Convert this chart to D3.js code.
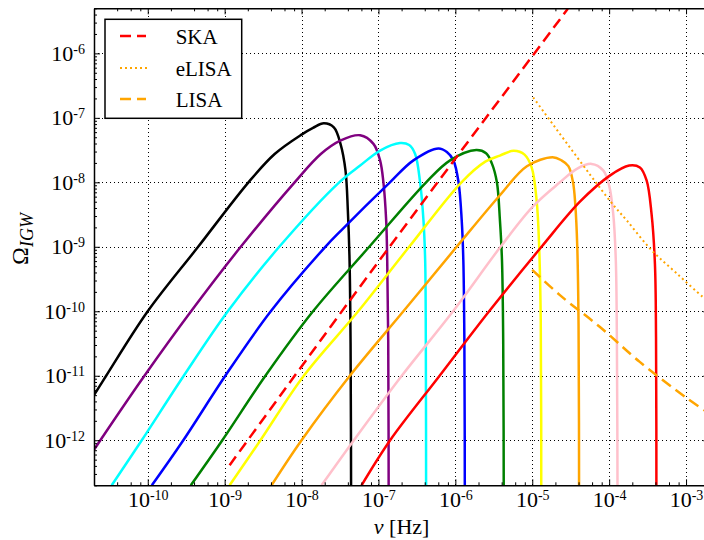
<!DOCTYPE html>
<html>
<head>
<meta charset="utf-8">
<script src="https://cdn.jsdelivr.net/npm/d3@7"></script>
<style>
  body { margin: 0; background: #fff; }
  svg { display: block; }
</style>
</head>
<body>
<svg id="chart" width="704" height="540"></svg>
<script>
// ---------- tick labels (exponents of ten) ----------
const xTickExps = [-10, -9, -8, -7, -6, -5, -4, -3];
const yTickExps = [-12, -11, -10, -9, -8, -7, -6];

// ---------- Omega_IGW spectra: frequency nu [Hz] and Omega ----------
const nuBlack = [2.0e-11, 2.88e-11, 1.0e-10, 4.52e-10, 2.04e-9, 4.47e-9, 1.0e-8, 1.41e-8, 1.95e-8, 2.63e-8, 3.21e-8, 3.73e-8, 4.0e-8, 4.21e-8, 4.34e-8, 4.42e-8];
const omBlack = [5.0e-12, 1.0e-11, 1.0e-10, 1.0e-9, 1.0e-8, 2.75e-8, 5.5e-8, 7.0e-8, 8.24e-8, 7.14e-8, 3.95e-8, 1.52e-8, 3.65e-9, 6.1e-10, 3.16e-11, 3.0e-14];

const nuPurple = [2.0e-11, 2.42e-11, 9.06e-11, 3.66e-10, 1.62e-9, 8.13e-9, 1.78e-8, 3.24e-8, 5.78e-8, 8.61e-8, 1.05e-7, 1.16e-7, 1.26e-7, 1.30e-7, 1.34e-7, 1.36e-7];
const omPurple = [7.1e-13, 1.0e-12, 1.0e-11, 1.0e-10, 1.0e-9, 1.0e-8, 2.75e-8, 4.47e-8, 5.37e-8, 3.95e-8, 2.19e-8, 1.0e-8, 2.57e-9, 6.17e-10, 3.55e-11, 3.0e-14];

const nuCyan = [3.4e-11, 8.36e-11, 2.94e-10, 1.10e-9, 5.13e-9, 3.09e-8, 5.78e-8, 1.05e-7, 1.91e-7, 2.51e-7, 3.0e-7, 3.48e-7, 3.85e-7, 4.05e-7, 4.13e-7, 4.17e-7];
const omCyan = [2.0e-13, 1.0e-12, 1.0e-11, 1.0e-10, 1.0e-9, 1.0e-8, 1.82e-8, 3.11e-8, 4.07e-8, 3.80e-8, 2.75e-8, 1.0e-8, 2.57e-9, 6.17e-10, 3.55e-11, 3.0e-14];

const nuBlue = [1.13e-10, 2.90e-10, 1.02e-9, 3.98e-9, 2.04e-8, 3.31e-8, 1.41e-7, 2.85e-7, 6.03e-7, 7.76e-7, 9.44e-7, 1.10e-6, 1.21e-6, 1.27e-6, 1.31e-6, 1.33e-6];
const omBlue = [2.0e-13, 1.0e-12, 1.0e-11, 1.0e-10, 1.0e-9, 1.82e-9, 1.0e-8, 2.19e-8, 3.35e-8, 2.95e-8, 2.19e-8, 1.0e-8, 2.57e-9, 6.17e-10, 3.55e-11, 3.0e-14];

const nuGreen = [3.63e-10, 9.33e-10, 3.39e-9, 1.41e-8, 7.59e-8, 4.17e-7, 8.55e-7, 1.87e-6, 2.51e-6, 2.99e-6, 3.47e-6, 3.80e-6, 4.04e-6, 4.19e-6, 4.27e-6];
const omGreen = [2.0e-13, 1.0e-12, 1.0e-11, 1.0e-10, 1.0e-9, 1.0e-8, 2.19e-8, 3.16e-8, 2.82e-8, 1.95e-8, 1.0e-8, 2.57e-9, 6.17e-10, 3.55e-11, 3.0e-14];

const nuYellow = [1.16e-9, 2.92e-9, 1.07e-8, 5.45e-8, 2.51e-7, 1.20e-6, 2.45e-6, 3.80e-6, 5.75e-6, 7.94e-6, 9.82e-6, 1.14e-5, 1.23e-5, 1.29e-5, 1.31e-5];
const omYellow = [2.0e-13, 1.0e-12, 1.0e-11, 1.0e-10, 1.0e-9, 1.0e-8, 2.09e-8, 2.60e-8, 3.09e-8, 2.69e-8, 1.70e-8, 5.25e-9, 1.0e-9, 7.24e-11, 3.0e-14];

const nuOrange = [4.07e-9, 1.0e-8, 4.25e-8, 2.11e-7, 1.04e-6, 3.80e-6, 8.51e-6, 1.84e-5, 2.40e-5, 2.95e-5, 3.39e-5, 3.63e-5, 3.85e-5, 4.0e-5, 4.07e-5];
const omOrange = [2.0e-13, 1.0e-12, 1.0e-11, 1.0e-10, 1.0e-9, 6.31e-9, 1.78e-8, 2.45e-8, 2.19e-8, 1.78e-8, 1.0e-8, 4.47e-9, 1.0e-9, 6.31e-11, 3.0e-14];

const nuPink = [1.82e-8, 4.79e-8, 2.01e-7, 9.33e-7, 3.87e-6, 1.03e-5, 2.29e-5, 3.80e-5, 5.92e-5, 8.37e-5, 1.0e-4, 1.13e-4, 1.22e-4, 1.26e-4, 1.29e-4];
const omPink = [2.0e-13, 1.0e-12, 1.0e-11, 1.0e-10, 1.0e-9, 4.27e-9, 1.0e-8, 1.62e-8, 1.93e-8, 1.53e-8, 8.9e-9, 3.24e-9, 6.31e-10, 3.98e-11, 3.0e-14];

const nuRed = [6.03e-8, 1.42e-7, 6.24e-7, 2.75e-6, 1.32e-5, 4.17e-5, 1.02e-4, 1.82e-4, 2.51e-4, 3.07e-4, 3.56e-4, 3.94e-4, 4.07e-4, 4.12e-4];
const omRed = [2.0e-13, 1.0e-12, 1.0e-11, 1.0e-10, 1.0e-9, 5.0e-9, 1.27e-8, 1.82e-8, 1.70e-8, 1.07e-8, 3.24e-9, 5.37e-10, 3.98e-11, 3.0e-14];

// ---------- detector sensitivity curves ----------
const nuSKA = [1.16e-9, 8.0e-8, 2.9e-5];
const omSKA = [4.1e-13, 4.1e-10, 4.9e-6];

const nuELISA = [1.03e-5, 1.02e-4, 1.69e-4, 3.55e-4, 7.5e-4, 1.66e-3, 2.0e-3];
const omELISA = [2.07e-7, 5.2e-9, 2.57e-9, 8.9e-10, 3.9e-10, 1.66e-10, 1.4e-10];

const nuLISA = [1.0e-5, 2.29e-5, 7.6e-5, 2.5e-4, 1.02e-3, 2.0e-3];
const omLISA = [4.4e-10, 1.78e-10, 5.7e-11, 1.64e-11, 4.5e-12, 2.6e-12];

const legendLabels = ["SKA", "eLISA", "LISA"];

// ---------- build series ----------
const zip = (a, b) => a.map((v, i) => [v, b[i]]);
const spectra = [
  { color: "#000000", pts: zip(nuBlack, omBlack) },
  { color: "#800080", pts: zip(nuPurple, omPurple) },
  { color: "#00ffff", pts: zip(nuCyan, omCyan) },
  { color: "#0000ff", pts: zip(nuBlue, omBlue) },
  { color: "#008000", pts: zip(nuGreen, omGreen) },
  { color: "#ffff00", pts: zip(nuYellow, omYellow) },
  { color: "#ffa500", pts: zip(nuOrange, omOrange) },
  { color: "#ffc0cb", pts: zip(nuPink, omPink) },
  { color: "#ff0000", pts: zip(nuRed, omRed) }
];
const detectors = [
  { name: legendLabels[0], color: "#ff0000", dash: "11,6", width: 2.5, pts: zip(nuSKA, omSKA) },
  { name: legendLabels[1], color: "#ffa500", dash: "2,3", width: 2, pts: zip(nuELISA, omELISA) },
  { name: legendLabels[2], color: "#ffa500", dash: "11,6", width: 2.5, pts: zip(nuLISA, omLISA) }
];

// ---------- scales ----------
const pLeft = 94, pRight = 709.2, pTop = 8.3, pBottom = 485.3;
const x = d3.scaleLog().domain([2e-11, 2e-3]).range([pLeft, pRight]);
const y = d3.scaleLog().domain([2e-13, 5e-6]).range([pBottom, pTop]);

const xMajor = xTickExps.map(e => Math.pow(10, e));
const yMajor = yTickExps.map(e => Math.pow(10, e));
const xMinor = [], yMinor = [];
for (let e = -11; e <= -3; e++) {
  [2, 4, 6, 8].forEach(m => { const v = m * Math.pow(10, e); if (v >= 2e-11 && v <= 2e-3) xMinor.push(v); });
}
for (let e = -13; e <= -6; e++) {
  [2, 3, 4, 5, 6, 7, 8, 9].forEach(m => { const v = m * Math.pow(10, e); if (v >= 2e-13 && v <= 5e-6) yMinor.push(v); });
}

const FONT = '"Liberation Serif"';
const svg = d3.select("#chart");

svg.append("defs").append("clipPath").attr("id", "plotclip")
  .append("rect").attr("x", pLeft).attr("y", pTop).attr("width", pRight - pLeft).attr("height", pBottom - pTop);

// ---------- grid ----------
const grid = svg.append("g").attr("stroke", "#000").attr("stroke-width", 1)
  .attr("stroke-dasharray", "1,3").attr("shape-rendering", "crispEdges");
grid.selectAll("line.gx").data(xMajor).join("line").attr("class", "gx")
  .attr("x1", d => Math.round(x(d)) + 0.5).attr("x2", d => Math.round(x(d)) + 0.5).attr("y1", pTop).attr("y2", pBottom);
grid.selectAll("line.gy").data(yMajor).join("line").attr("class", "gy")
  .attr("x1", pLeft).attr("x2", pRight).attr("y1", d => Math.round(y(d)) + 0.5).attr("y2", d => Math.round(y(d)) + 0.5);

// ---------- curves ----------
const line = d3.line().x(d => x(d[0])).y(d => y(d[1])).curve(d3.curveCatmullRom.alpha(0.5));
const plot = svg.append("g").attr("clip-path", "url(#plotclip)");
plot.selectAll("path.spec").data(spectra).join("path").attr("class", "spec")
  .attr("d", d => line(d.pts)).attr("fill", "none").attr("stroke", d => d.color)
  .attr("stroke-width", 2.5).attr("stroke-linejoin", "round");
plot.selectAll("path.det").data(detectors).join("path").attr("class", "det")
  .attr("d", d => line(d.pts)).attr("fill", "none").attr("stroke", d => d.color)
  .attr("stroke-width", d => d.width).attr("stroke-dasharray", d => d.dash);

// ---------- axes ----------
function styleAxis(g) {
  g.attr("font-family", FONT);
  g.select(".domain").attr("stroke", "#000").attr("stroke-width", 1.5);
  g.selectAll(".tick line").attr("stroke", "#000").attr("stroke-width", 1);
}
function supLabel(sel, exps) {
  sel.each(function (d, i) {
    const t = d3.select(this);
    t.text(null);
    t.append("tspan").text("10");
    t.append("tspan").attr("dy", -7).attr("font-size", 14).text("-" + Math.abs(exps[i]));
  });
}

// bottom
const gxB = svg.append("g").attr("transform", `translate(0,${pBottom})`)
  .call(d3.axisBottom(x).tickValues(xMajor).tickSizeInner(-6).tickSizeOuter(0).tickFormat(() => ""));
styleAxis(gxB);
gxB.selectAll(".tick text").attr("y", 21.7).attr("dy", null).attr("font-family", FONT)
  .attr("font-size", 22).attr("fill", "#000").attr("text-anchor", "middle");
supLabel(gxB.selectAll(".tick text"), xTickExps);
const gxBm = svg.append("g").attr("transform", `translate(0,${pBottom})`)
  .call(d3.axisBottom(x).tickValues(xMinor).tickSizeInner(-3).tickSizeOuter(0).tickFormat(() => ""));
gxBm.select(".domain").remove(); styleAxis(gxBm);

// top
const gxT = svg.append("g").attr("transform", `translate(0,${pTop})`)
  .call(d3.axisTop(x).tickValues(xMajor).tickSizeInner(-6).tickSizeOuter(0).tickFormat(() => ""));
styleAxis(gxT);
const gxTm = svg.append("g").attr("transform", `translate(0,${pTop})`)
  .call(d3.axisTop(x).tickValues(xMinor).tickSizeInner(-3).tickSizeOuter(0).tickFormat(() => ""));
gxTm.select(".domain").remove(); styleAxis(gxTm);

// left
const gyL = svg.append("g").attr("transform", `translate(${pLeft},0)`)
  .call(d3.axisLeft(y).tickValues(yMajor).tickSizeInner(-6).tickSizeOuter(0).tickFormat(() => ""));
styleAxis(gyL);
gyL.selectAll(".tick text").attr("x", -9).attr("y", 7).attr("dy", null).attr("font-family", FONT)
  .attr("font-size", 22).attr("fill", "#000").attr("text-anchor", "end");
supLabel(gyL.selectAll(".tick text"), yTickExps);
const gyLm = svg.append("g").attr("transform", `translate(${pLeft},0)`)
  .call(d3.axisLeft(y).tickValues(yMinor).tickSizeInner(-3).tickSizeOuter(0).tickFormat(() => ""));
gyLm.select(".domain").remove(); styleAxis(gyLm);

// right (frame edge lies just outside the view)
const gyR = svg.append("g").attr("transform", `translate(${pRight},0)`)
  .call(d3.axisRight(y).tickValues(yMajor).tickSizeInner(-6).tickSizeOuter(0).tickFormat(() => ""));
styleAxis(gyR);

// ---------- axis labels ----------
const xl = svg.append("text").attr("x", (pLeft + pRight) / 2).attr("y", 534)
  .attr("text-anchor", "middle").attr("font-family", FONT).attr("font-size", 22).attr("fill", "#000");
xl.append("tspan").attr("font-style", "italic").text("\u03BD");
xl.append("tspan").text(" [Hz]");

const yl = svg.append("text").attr("transform", "translate(28,239) rotate(-90)")
  .attr("text-anchor", "middle").attr("font-family", FONT).attr("font-size", 24).attr("fill", "#000");
yl.append("tspan").text("\u03A9");
yl.append("tspan").attr("dy", 5).attr("font-size", 18).attr("font-style", "italic").text("IGW");

// ---------- legend ----------
const lg = svg.append("g");
lg.append("rect").attr("x", 105).attr("y", 19.3).attr("width", 136.7).attr("height", 99)
  .attr("fill", "#fff").attr("stroke", "#000").attr("stroke-width", 1.5);
const rowsY = [36, 68, 99];
detectors.forEach((d, i) => {
  lg.append("line").attr("x1", 120).attr("x2", d.dash === "2,3" ? 150 : 146)
    .attr("y1", rowsY[i]).attr("y2", rowsY[i])
    .attr("stroke", d.color).attr("stroke-width", d.width).attr("stroke-dasharray", d.dash);
  lg.append("text").attr("x", 175.7).attr("y", rowsY[i] + 8)
    .attr("font-family", FONT).attr("font-size", 21).attr("fill", "#000").text(d.name);
});
</script>
</body>
</html>
